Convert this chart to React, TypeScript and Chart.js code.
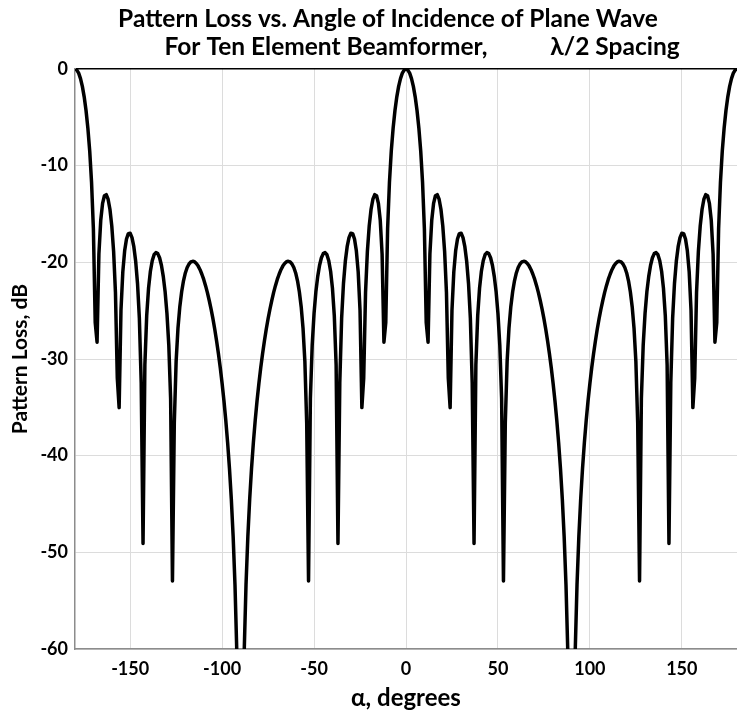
import React, { useEffect, useRef } from "react";
import Chart from "chart.js/auto";

const angleStart = -180;
const angleStep = 1;
const lossDb: number[] = [
  // -180 .. -90
  0, -0.11, -0.43, -0.99, -1.8, -2.88, -4.29, -6.11, -8.48, -11.72, -16.53, -26.24, -28.26, -19.14, -15.65, -13.9, -13.11, -13.0, -13.47, -14.51,
  -16.23, -18.87, -23.11, -31.97, -35.03, -24.96, -20.99, -18.81, -17.59, -17.03, -16.99, -17.44, -18.38, -19.89, -22.19, -25.78, -32.44, -49.08, -30.58, -25.48,
  -22.67, -20.92, -19.83, -19.21, -18.99, -19.1, -19.53, -20.3, -21.45, -23.03, -25.29, -28.53, -34.08, -52.96, -36.61, -30.21, -26.81, -24.59, -23.04, -21.91,
  -21.1, -20.54, -20.17, -19.96, -19.89, -19.94, -20.12, -20.39, -20.76, -21.23, -21.77, -22.41, -23.13, -23.95, -24.85, -25.83, -26.93, -28.13, -29.45, -30.91,
  -32.53, -34.32, -36.35, -38.65, -41.32, -44.48, -48.35, -53.34, -60.39, -72.4, -90,
  // -89 .. 0
  -72.4, -60.39, -53.34, -48.35, -44.48, -41.32, -38.65, -36.35, -34.32, -32.53, -30.91, -29.45, -28.13, -26.93, -25.83, -24.85, -23.95, -23.13, -22.41, -21.77,
  -21.23, -20.76, -20.39, -20.12, -19.94, -19.89, -19.96, -20.17, -20.54, -21.1, -21.91, -23.04, -24.59, -26.81, -30.21, -36.61, -52.96, -34.08, -28.53, -25.29,
  -23.03, -21.45, -20.3, -19.53, -19.1, -18.99, -19.21, -19.83, -20.92, -22.67, -25.48, -30.58, -49.08, -32.44, -25.78, -22.19, -19.89, -18.38, -17.44, -16.99,
  -17.03, -17.59, -18.81, -20.99, -24.96, -35.03, -31.97, -23.11, -18.87, -16.23, -14.51, -13.47, -13.0, -13.11, -13.9, -15.65, -19.14, -28.26, -26.24, -16.53,
  -11.72, -8.48, -6.11, -4.29, -2.88, -1.8, -0.99, -0.43, -0.11, 0,
  // 1 .. 90
  -0.11, -0.43, -0.99, -1.8, -2.88, -4.29, -6.11, -8.48, -11.72, -16.53, -26.24, -28.26, -19.14, -15.65, -13.9, -13.11, -13.0, -13.47, -14.51,
  -16.23, -18.87, -23.11, -31.97, -35.03, -24.96, -20.99, -18.81, -17.59, -17.03, -16.99, -17.44, -18.38, -19.89, -22.19, -25.78, -32.44, -49.08, -30.58, -25.48,
  -22.67, -20.92, -19.83, -19.21, -18.99, -19.1, -19.53, -20.3, -21.45, -23.03, -25.29, -28.53, -34.08, -52.96, -36.61, -30.21, -26.81, -24.59, -23.04, -21.91,
  -21.1, -20.54, -20.17, -19.96, -19.89, -19.94, -20.12, -20.39, -20.76, -21.23, -21.77, -22.41, -23.13, -23.95, -24.85, -25.83, -26.93, -28.13, -29.45, -30.91,
  -32.53, -34.32, -36.35, -38.65, -41.32, -44.48, -48.35, -53.34, -60.39, -72.4, -90,
  // 91 .. 180
  -72.4, -60.39, -53.34, -48.35, -44.48, -41.32, -38.65, -36.35, -34.32, -32.53, -30.91, -29.45, -28.13, -26.93, -25.83, -24.85, -23.95, -23.13, -22.41, -21.77,
  -21.23, -20.76, -20.39, -20.12, -19.94, -19.89, -19.96, -20.17, -20.54, -21.1, -21.91, -23.04, -24.59, -26.81, -30.21, -36.61, -52.96, -34.08, -28.53, -25.29,
  -23.03, -21.45, -20.3, -19.53, -19.1, -18.99, -19.21, -19.83, -20.92, -22.67, -25.48, -30.58, -49.08, -32.44, -25.78, -22.19, -19.89, -18.38, -17.44, -16.99,
  -17.03, -17.59, -18.81, -20.99, -24.96, -35.03, -31.97, -23.11, -18.87, -16.23, -14.51, -13.47, -13.0, -13.11, -13.9, -15.65, -19.14, -28.26, -26.24, -16.53,
  -11.72, -8.48, -6.11, -4.29, -2.88, -1.8, -0.99, -0.43, -0.11, 0,
];

const xTicks = [-150, -100, -50, 0, 50, 100, 150];
const yMin = -60;
const yMax = 0;
const yStep = 10;

const titleLine1 = "Pattern Loss vs. Angle of Incidence of Plane Wave";
const titleLine2a = "For Ten Element Beamformer,";
const titleLine2b = "λ/2 Spacing";
const xTitle = "α, degrees";
const yTitle = "Pattern Loss, dB";

const FONT = "Lato, 'Open Sans', sans-serif";

const titlePlugin = {
  id: "twoLineTitle",
  afterDraw(chart: any) {
    const ctx = chart.ctx;
    ctx.save();
    ctx.fillStyle = "#000";
    ctx.font = `bold 24.5px ${FONT}`;
    ctx.textBaseline = "alphabetic";
    ctx.textAlign = "center";
    ctx.fillText(titleLine1, 388, 27);
    ctx.fillText(titleLine2a, 326, 55);
    ctx.fillText(titleLine2b, 615, 55);
    ctx.restore();
  },
};

export default function App() {
  const ref = useRef<HTMLCanvasElement | null>(null);
  useEffect(() => {
    if (!ref.current) return;
    const points = lossDb.map((v, i) => ({ x: angleStart + i * angleStep, y: v }));
    const chart = new Chart(ref.current, {
      type: "line",
      data: {
        datasets: [
          {
            data: points,
            borderColor: "#000",
            borderWidth: 3.5,
            pointRadius: 0,
            tension: 0,
            borderJoinStyle: "round",
            fill: false,
          },
        ],
      },
      options: {
        animation: false,
        responsive: true,
        maintainAspectRatio: false,
        layout: { padding: { top: 69, right: 0, left: 0, bottom: 0 } },
        plugins: {
          legend: { display: false },
          tooltip: { enabled: false },
          title: { display: false },
        },
        scales: {
          x: {
            type: "linear",
            min: -180,
            max: 180,
            afterBuildTicks: (scale: any) => {
              scale.ticks = xTicks.map((v) => ({ value: v }));
            },
            afterFit: (scale: any) => {
              scale.height = 65;
            },
            grid: { color: "#dcdcdc", lineWidth: 1, drawTicks: false },
            border: { color: "#8c8c8c", width: 1.5 },
            ticks: {
              color: "#000",
              font: { family: FONT, size: 18, weight: "bold" },
              padding: 9,
              maxRotation: 0,
            },
            title: {
              display: true,
              text: xTitle,
              color: "#000",
              font: { family: FONT, size: 24, weight: "bold" },
              padding: { top: 0, bottom: 1 },
            },
          },
          y: {
            type: "linear",
            min: yMin,
            max: yMax,
            afterFit: (scale: any) => {
              scale.width = 75;
            },
            ticks: {
              stepSize: yStep,
              color: "#000",
              font: { family: FONT, size: 18, weight: "bold" },
              padding: 7,
            },
            grid: {
              color: (c: any) => (c.tick && c.tick.value === 0 ? "#000" : "#dcdcdc"),
              lineWidth: (c: any) => (c.tick && c.tick.value === 0 ? 1.5 : 1),
              drawTicks: false,
            },
            border: { color: "#8c8c8c", width: 1.5 },
            title: {
              display: true,
              text: yTitle,
              color: "#000",
              font: { family: FONT, size: 21, weight: "bold" },
              padding: { top: 8, bottom: 0 },
            },
          },
        },
      },
      plugins: [titlePlugin],
    });
    return () => chart.destroy();
  }, []);
  return (
    <div style={{ position: "absolute", left: 0, top: 0, width: 737, height: 714, background: "#fff" }}>
      <canvas ref={ref} />
    </div>
  );
}
